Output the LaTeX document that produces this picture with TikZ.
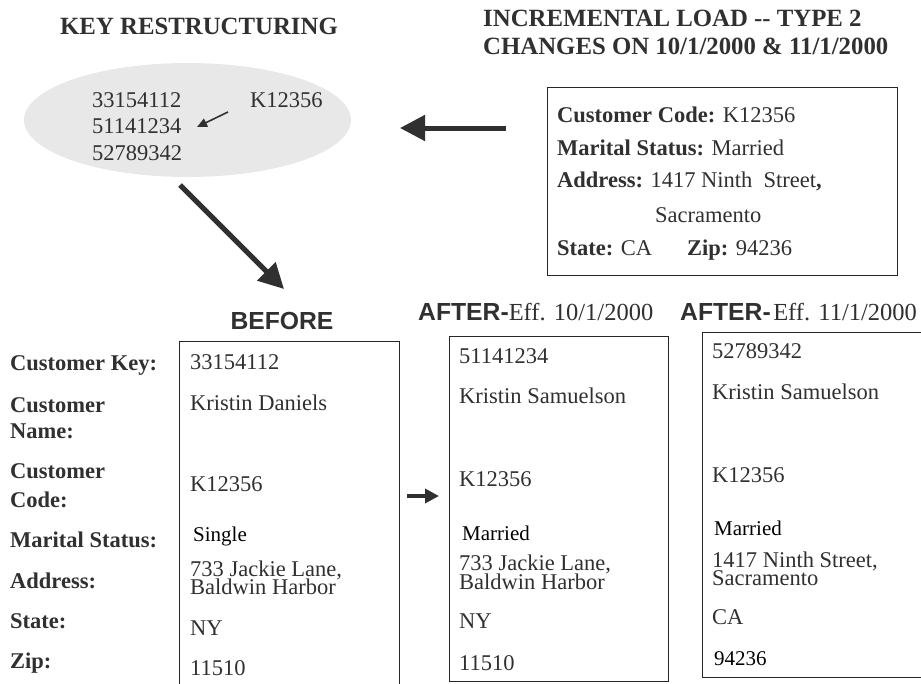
\documentclass[tikz,border=0pt]{standalone}
\usepackage{fontspec}
\setmainfont{Liberation Serif}
\newfontfamily\arialfont{Liberation Sans}
\usetikzlibrary{arrows.meta,shapes.geometric}
\definecolor{ink}{HTML}{303030}
\definecolor{lineink}{HTML}{262626}
\begin{document}
\begin{tikzpicture}[x=1pt,y=-1pt,
  txt/.style={inner sep=0pt, anchor=base west, text=ink, font=\fontsize{22.5}{24}\selectfont},
  lbl/.style={inner sep=0pt, anchor=base west, text=ink, font=\fontsize{22.5}{24}\selectfont\bfseries},
  smalltxt/.style={inner sep=0pt, anchor=base west, text=black, font=\fontsize{21}{22}\selectfont},
  head/.style={inner sep=0pt, anchor=base west, text=ink, font=\fontsize{24.8}{26}\selectfont\bfseries},
  sanshead/.style={inner sep=0pt, text=ink, font=\fontsize{24.7}{26}\selectfont\arialfont\bfseries},
  recbox/.style={draw=lineink, line width=1.3pt, inner sep=0pt, anchor=north west},
  bigarrow/.style={draw=ink, line width=5pt, -{Triangle[length=25pt,width=25pt]}},
  midarrow/.style={draw=ink, line width=4pt, -{Triangle[length=14pt,width=14pt]}},
  thinarrow/.style={draw=ink, line width=1.6pt, -{Triangle[length=10pt,width=9pt]}},
]
\useasboundingbox (0,0) rectangle (921,683);

% titles
\node[head] (t1) at (60,34) {KEY RESTRUCTURING};
\node[head] (t2a) at (483,26) {INCREMENTAL LOAD -{}- TYPE 2};
\node[head] (t2b) at (483,54) {CHANGES ON 10/1/2000 \& 11/1/2000};

% key ellipse
\node[ellipse, fill=black!9, draw=none, minimum width=327pt, minimum height=114pt, inner sep=0pt] (keys) at (187.5,120) {};
\node[txt] (k1) at (92,107) {33154112};
\node[txt] (k2) at (92,133) {51141234};
\node[txt] (k3) at (92,160) {52789342};
\node[txt] (kc) at (250,107) {K12356};
\coordinate (sa1) at (228,112);
\coordinate (sa2) at (197,127);
\draw[thinarrow] (sa1) -- (sa2);

% incoming record
\node[recbox, minimum width=350pt, minimum height=188pt] (newrec) at (547,87) {};
\node[txt] (n1) at (557,122) {\textbf{Customer Code:} K12356};
\node[txt] (n2) at (557,155) {\textbf{Marital Status:} Married};
\node[txt] (n3) at (557,187) {\textbf{Address:} 1417 Ninth\ \ Street\textbf{,}};
\node[txt] (n4) at (655,222) {Sacramento};
\node[txt] (n5) at (557,255) {\textbf{State:} CA};
\node[txt] (n6) at (687,255) {\textbf{Zip:} 94236};

\coordinate (la_tail) at (506,128);
\coordinate (la_tip) at (400,128);
\draw[bigarrow] (la_tail) -- (la_tip);

\coordinate (da_tail) at (180,185);
\coordinate (da_tip) at (284,289);
\draw[bigarrow] (da_tail) -- (da_tip);

% headings
\node[sanshead, anchor=base] (hb) at (282,329) {BEFORE};
\node[inner sep=0pt, anchor=base west, text=ink] (ha1) at (418,320) {{\fontsize{24.7}{26}\selectfont\arialfont\bfseries AFTER-}{\fontsize{24.5}{26}\selectfont Eff. 10/1/2000}};
\node[inner sep=0pt, anchor=base west, text=ink] (ha2) at (680,320) {{\fontsize{24.7}{26}\selectfont\arialfont\bfseries AFTER-} {\fontsize{24.5}{26}\selectfont Eff. 11/1/2000}};

% row labels
\node[lbl] (l1) at (10,370) {Customer Key:};
\node[lbl] (l2a) at (10,412) {Customer};
\node[lbl] (l2b) at (10,438) {Name:};
\node[lbl] (l3a) at (10,478) {Customer};
\node[lbl] (l3b) at (10,507) {Code:};
\node[lbl] (l4) at (10,547) {Marital Status:};
\node[lbl] (l5) at (10,588) {Address:};
\node[lbl] (l6) at (10,628) {State:};
\node[lbl] (l7) at (10,668) {Zip:};

% before box
\node[recbox, minimum width=220pt, minimum height=370pt] (before) at (179,341) {};
\node[txt] (b1) at (190,369) {33154112};
\node[txt] (b2) at (190,410) {Kristin Daniels};
\node[txt] (b3) at (190,491) {K12356};
\node[smalltxt] (b4) at (193,541) {Single};
\node[txt] (b5a) at (190,576) {733 Jackie Lane,};
\node[txt] (b5b) at (190,594) {Baldwin Harbor};
\node[txt] (b6) at (190,635) {NY};
\node[txt] (b7) at (190,675) {11510};

\coordinate (ma_tail) at (407,496);
\coordinate (ma_tip) at (439,496);
\draw[midarrow] (ma_tail) -- (ma_tip);

% after box 1
\node[recbox, minimum width=219pt, minimum height=345pt] (after1) at (449,336) {};
\node[txt] (a1) at (459,363) {51141234};
\node[txt] (a2) at (459,403) {Kristin Samuelson};
\node[txt] (a3) at (459,486) {K12356};
\node[smalltxt] (a4) at (462,540) {Married};
\node[txt] (a5a) at (459,570) {733 Jackie Lane,};
\node[txt] (a5b) at (459,589) {Baldwin Harbor};
\node[txt] (a6) at (459,628) {NY};
\node[txt] (a7) at (459,670) {11510};

% after box 2
\node[recbox, minimum width=240pt, minimum height=345pt] (after2) at (702,332) {};
\node[txt] (c1) at (712,358) {52789342};
\node[txt] (c2) at (712,399) {Kristin Samuelson};
\node[txt] (c3) at (712,482) {K12356};
\node[smalltxt] (c4) at (714,535) {Married};
\node[txt] (c5a) at (712,567) {1417 Ninth Street,};
\node[txt] (c5b) at (712,585) {Sacramento};
\node[txt] (c6) at (712,624) {CA};
\node[smalltxt] (c7) at (714,665) {94236};
\end{tikzpicture}
\end{document}
